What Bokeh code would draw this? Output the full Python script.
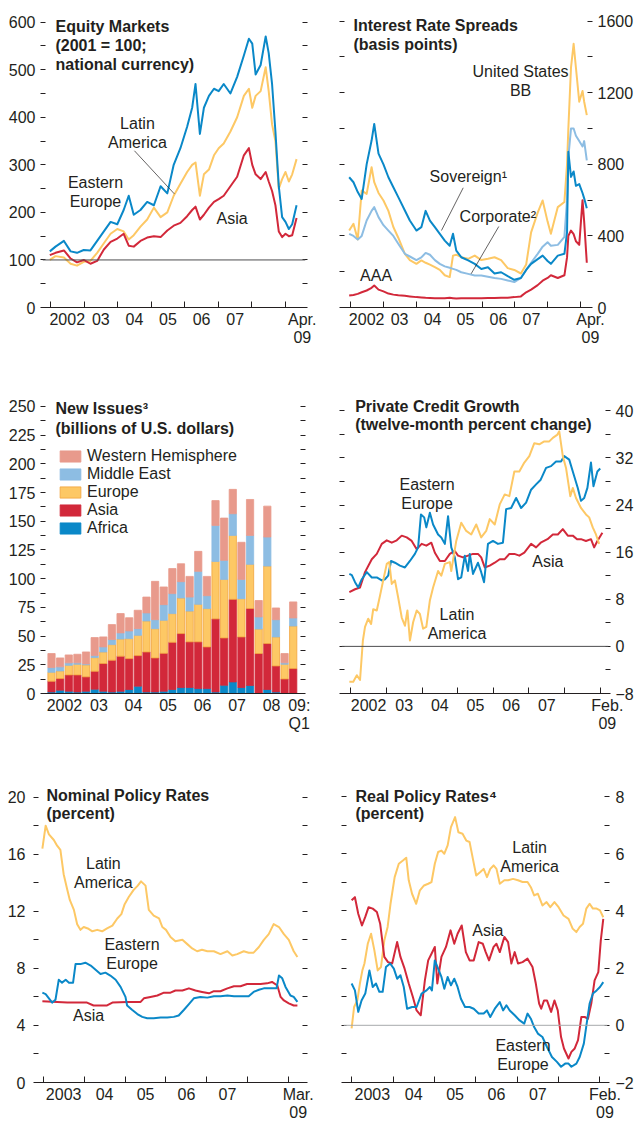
from bokeh.plotting import figure
from bokeh.models import (Range1d, LinearAxis, FixedTicker, Span, Label, Legend,
                          LegendItem, ColumnDataSource)
from bokeh.layouts import column, row
from bokeh.embed import file_html
from bokeh.resources import INLINE

FONT = "Liberation Sans"
FS = "16px"
TXT = "#231f20"
BLUE = "#0a88c8"
YELLOW = "#fdc865"
RED = "#d2283a"
LBLUE = "#8dbde3"
PINK = "#e89a8c"
EURO_EDGE = "#f2a43e"

# ---------------- Equity Markets (2001 = 100) ----------------
eq_dates = [2001.98, 2002.15, 2002.40, 2002.60, 2002.79, 2002.99, 2003.19, 2003.39, 2003.59, 2003.79,
            2003.99, 2004.18, 2004.33, 2004.48, 2004.68, 2004.88, 2005.08, 2005.28, 2005.48, 2005.67,
            2005.87, 2006.07, 2006.22, 2006.32, 2006.45, 2006.57, 2006.72, 2006.87, 2007.01, 2007.16,
            2007.36, 2007.56, 2007.76, 2007.91, 2008.01, 2008.11, 2008.26, 2008.41, 2008.50, 2008.60,
            2008.70, 2008.80, 2008.90, 2009.00, 2009.10, 2009.20, 2009.33]
eq_eastern_europe = [118, 128, 140, 118, 115, 121, 120, 140, 160, 180, 175, 205, 235, 195, 205, 222, 215,
                     255, 240, 300, 335, 380, 420, 470, 365, 420, 445, 460, 455, 470, 450, 485, 530, 565,
                     555, 490, 510, 570, 535, 470, 370, 255, 190, 180, 165, 175, 215]
eq_latin_america = [100, 108, 105, 92, 88, 96, 98, 115, 135, 155, 165, 160, 143, 152, 170, 185, 210, 190,
                    200, 235, 260, 285, 300, 305, 235, 280, 290, 320, 335, 345, 370, 400, 445, 460, 420,
                    445, 455, 505, 455, 385, 350, 250, 270, 285, 265, 280, 312]
eq_asia = [110, 115, 120, 103, 95, 100, 92, 98, 122, 138, 145, 155, 130, 128, 140, 147, 150, 148, 162,
           172, 178, 192, 205, 212, 185, 195, 210, 222, 228, 235, 255, 275, 320, 335, 300, 280, 270, 285,
           265, 245, 215, 160, 148, 155, 150, 152, 188]

# ---------------- Interest Rate Spreads (basis points) ----------------
sp_dates = [2001.97, 2002.10, 2002.23, 2002.35, 2002.50, 2002.65, 2002.73, 2002.86, 2003.01, 2003.16,
            2003.31, 2003.46, 2003.66, 2003.81, 2004.01, 2004.16, 2004.29, 2004.42, 2004.57, 2004.72,
            2004.87, 2005.02, 2005.12, 2005.22, 2005.37, 2005.58, 2005.78, 2005.98, 2006.18, 2006.38,
            2006.58, 2006.78, 2006.98, 2007.18, 2007.34, 2007.49, 2007.69, 2007.84, 2007.99, 2008.09,
            2008.30, 2008.50, 2008.58, 2008.62, 2008.70, 2008.78, 2008.85, 2008.95, 2009.05, 2009.10,
            2009.18]
sp_sovereign = [728, 700, 645, 607, 800, 933, 1026, 860, 800, 728, 672, 617, 542, 486, 430, 449, 540,
                486, 449, 412, 374, 345, 412, 318, 281, 263, 244, 215, 225, 190, 197, 175, 155, 165,
                210, 244, 270, 290, 260, 244, 290, 300, 420, 870, 730, 760, 680, 690, 640, 610, 555]
sp_us_bb = [430, 468, 380, 654, 635, 784, 700, 640, 598, 540, 450, 390, 300, 265, 244, 263, 250, 240,
            225, 210, 180, 170, 290, 295, 281, 272, 290, 265, 272, 281, 265, 220, 210, 190, 240, 420,
            530, 598, 480, 412, 561, 590, 800, 1000, 1340, 1474, 1340, 1150, 1210, 1150, 1075]
sp_corporate = [412, 400, 380, 400, 486, 540, 561, 505, 460, 430, 400, 356, 300, 285, 265, 280, 305,
                295, 265, 244, 230, 222, 216, 210, 197, 188, 179, 179, 172, 165, 160, 151, 142, 165,
                210, 250, 300, 340, 365, 345, 350, 395, 600, 840, 1000, 1000, 960, 930, 900, 930, 822]
sp_aaa = [67, 70, 76, 85, 95, 110, 123, 100, 90, 78, 72, 68, 65, 62, 58, 56, 54, 53, 52, 52, 52, 54, 52,
          50, 52, 52, 52, 52, 53, 53, 54, 55, 58, 62, 85, 100, 125, 150, 165, 180, 165, 180, 280, 400,
          430, 410, 370, 350, 600, 480, 250]

# ---------------- New Issues (billions of U.S. dollars), quarterly ----------------
quarters = [f"{y}Q{q}" for y in range(2002, 2010) for q in range(1, 5)][:29]
ni_africa = [1.4, 2.9, 2.0, 1.4, 2.0, 3.8, 2.0, 1.4, 2.0, 3.5, 6.4, 1.4, 1.4, 2.0, 3.5, 5.2, 5.2, 4.3,
             4.3, 1.4, 7.2, 10.1, 5.2, 7.0, 0.5, 3.5, 1.4, 0.5, 0.3]
ni_asia = [9.3, 10.1, 14.2, 14.8, 12.5, 15.6, 24.1, 27.6, 30.5, 26.9, 26.6, 34.8, 29.6, 33.0, 41.1,
           47.0, 39.8, 40.7, 36.3, 63.6, 41.2, 71.9, 44.1, 67.0, 34.3, 40.0, 22.6, 12.2, 21.4]
ni_europe = [7.8, 6.7, 8.4, 9.3, 10.5, 11.9, 10.1, 13.6, 15.0, 17.4, 17.7, 27.0, 25.5, 28.8, 25.0,
             31.0, 26.8, 32.7, 33.4, 50.0, 51.0, 55.7, 33.3, 38.5, 21.4, 67.5, 25.3, 12.8, 37.1]
ni_middle_east = [4.1, 3.5, 2.1, 1.2, 0.8, 1.7, 4.4, 4.4, 5.3, 6.7, 5.8, 7.0, 7.8, 13.6, 17.4, 14.2,
                  12.2, 28.7, 11.2, 31.4, 16.6, 18.9, 16.8, 25.2, 10.5, 25.3, 15.0, 1.2, 7.0]
ni_western_hem = [12.2, 7.8, 6.9, 7.5, 10.4, 15.7, 8.7, 13.0, 16.8, 11.5, 16.0, 13.8, 33.4, 15.4, 21.8,
                  15.6, 18.0, 17.4, 16.8, 21.6, 36.8, 21.2, 32.3, 31.3, 14.3, 26.9, 10.2, 8.1, 14.0]
ni_regions = ["Africa", "Asia", "Europe", "Middle East", "Western Hemisphere"]

# ---------------- Private Credit Growth (twelve-month percent change) ----------------
pc_ee_dates = [2001.96, 2002.03, 2002.12, 2002.21, 2002.31, 2002.45, 2002.59, 2002.73, 2002.87, 2002.96,
               2003.05, 2003.13, 2003.24, 2003.38, 2003.52, 2003.66, 2003.80, 2003.89, 2003.97, 2004.06,
               2004.12, 2004.22, 2004.31, 2004.45, 2004.54, 2004.64, 2004.73, 2004.82, 2004.92, 2005.01,
               2005.10, 2005.20, 2005.29, 2005.34, 2005.43, 2005.57, 2005.66, 2005.74, 2005.85, 2005.99,
               2006.13, 2006.27, 2006.36, 2006.50, 2006.64, 2006.78, 2006.92, 2007.06, 2007.20, 2007.33,
               2007.48, 2007.62, 2007.76, 2007.90, 2007.99, 2008.13, 2008.23, 2008.37, 2008.46, 2008.55,
               2008.64, 2008.74, 2008.81, 2008.92, 2009.00]
pc_eastern_europe = [12.3, 12.1, 10.9, 10.0, 11.4, 12.6, 11.7, 11.7, 11.2, 11.4, 12.0, 14.5, 14.2, 13.7,
                     13.4, 14.5, 15.7, 16.8, 22.4, 21.9, 20.2, 22.7, 20.7, 19.0, 18.5, 17.4, 22.1, 16.8,
                     15.1, 11.4, 11.7, 15.4, 12.8, 15.7, 12.3, 14.2, 12.6, 10.9, 17.4, 17.9, 17.4, 17.6,
                     23.3, 23.5, 25.2, 23.5, 24.4, 26.6, 27.5, 28.3, 30.3, 30.6, 31.4, 31.4, 32.3, 31.7,
                     29.7, 26.9, 24.7, 25.2, 26.9, 31.2, 27.2, 29.7, 30.2]
pc_asia_dates = [2001.96, 2002.12, 2002.26, 2002.40, 2002.59, 2002.73, 2002.87, 2003.01, 2003.15, 2003.29,
                 2003.43, 2003.57, 2003.71, 2003.85, 2003.99, 2004.12, 2004.26, 2004.36, 2004.50, 2004.64,
                 2004.78, 2004.92, 2005.01, 2005.15, 2005.29, 2005.43, 2005.57, 2005.66, 2005.76, 2005.90,
                 2006.04, 2006.18, 2006.32, 2006.45, 2006.59, 2006.73, 2006.87, 2007.06, 2007.20, 2007.33,
                 2007.52, 2007.67, 2007.81, 2007.95, 2008.09, 2008.23, 2008.35, 2008.46, 2008.60, 2008.74,
                 2008.83, 2008.92, 2009.06]
pc_asia = [9.2, 9.7, 10.0, 12.6, 14.8, 15.7, 17.4, 18.0, 17.6, 18.0, 18.8, 18.5, 17.9, 16.5, 17.4, 17.1,
           17.6, 15.9, 14.5, 14.5, 15.7, 16.2, 15.4, 15.1, 15.4, 15.7, 15.7, 15.1, 13.4, 13.7, 14.2, 14.8,
           14.8, 15.7, 15.7, 15.4, 15.9, 17.4, 16.8, 17.6, 18.2, 19.0, 19.0, 19.9, 18.8, 18.8, 18.2, 18.2,
           17.9, 18.2, 16.8, 17.9, 19.3]
pc_la_dates = [2001.96, 2002.07, 2002.17, 2002.26, 2002.34, 2002.40, 2002.49, 2002.57, 2002.63, 2002.73,
               2002.82, 2002.91, 2003.01, 2003.08, 2003.15, 2003.24, 2003.33, 2003.43, 2003.52, 2003.59,
               2003.66, 2003.75, 2003.85, 2003.94, 2004.03, 2004.12, 2004.22, 2004.31, 2004.45, 2004.54,
               2004.64, 2004.78, 2004.82, 2004.96, 2005.10, 2005.24, 2005.38, 2005.52, 2005.66, 2005.80,
               2005.90, 2006.04, 2006.18, 2006.32, 2006.45, 2006.59, 2006.73, 2006.87, 2007.01, 2007.15,
               2007.29, 2007.43, 2007.57, 2007.67, 2007.79, 2007.85, 2007.95, 2008.04, 2008.16, 2008.23,
               2008.32, 2008.46, 2008.60, 2008.69, 2008.79, 2008.88, 2008.97]
pc_latin_america = [-6.0, -6.0, -4.9, -5.7, 1.0, 3.3, 4.7, 3.8, 6.3, 6.1, 8.6, 11.2, 14.0, 14.3, 10.6,
                    11.2, 8.3, 4.9, 3.5, 6.1, 1.0, 4.1, 6.1, 5.5, 3.0, 3.3, 7.8, 10.0, 12.8, 12.0, 14.0,
                    14.3, 12.8, 17.9, 21.0, 19.6, 19.0, 20.7, 18.5, 19.6, 21.6, 20.7, 24.1, 25.8, 25.5,
                    29.7, 29.7, 31.2, 32.3, 34.5, 34.3, 34.8, 34.8, 35.4, 35.9, 36.5, 32.3, 30.3, 25.5,
                    26.9, 25.2, 23.5, 22.4, 21.9, 20.2, 19.0, 17.4]

# ---------------- Nominal Policy Rates (percent) ----------------
np_la_dates = [2002.98, 2003.06, 2003.14, 2003.26, 2003.34, 2003.42, 2003.50, 2003.59, 2003.65, 2003.75,
               2003.83, 2003.91, 2003.99, 2004.09, 2004.20, 2004.32, 2004.44, 2004.56, 2004.69, 2004.81,
               2004.91, 2004.99, 2005.09, 2005.21, 2005.31, 2005.39, 2005.50, 2005.58, 2005.70, 2005.83,
               2005.91, 2006.00, 2006.11, 2006.23, 2006.40, 2006.52, 2006.64, 2006.76, 2006.88, 2007.01,
               2007.17, 2007.33, 2007.50, 2007.62, 2007.74, 2007.90, 2008.02, 2008.14, 2008.27, 2008.39,
               2008.51, 2008.63, 2008.76, 2008.88, 2009.00, 2009.12, 2009.21]
np_latin_america = [16.4, 18.0, 17.4, 17.0, 16.6, 16.3, 14.6, 13.5, 12.8, 12.1, 11.1, 10.7, 10.9, 10.8,
                    10.6, 10.7, 10.6, 10.8, 11.0, 11.5, 11.8, 12.5, 13.0, 13.5, 13.8, 14.1, 13.8, 12.1,
                    11.7, 11.5, 10.9, 10.7, 10.2, 9.9, 10.0, 9.7, 9.4, 9.2, 9.3, 9.2, 9.2, 9.0, 9.2, 8.9,
                    9.0, 9.2, 9.1, 9.1, 9.5, 10.0, 10.4, 11.1, 10.9, 10.4, 10.0, 9.2, 8.8]
np_ee_dates = [2002.98, 2003.06, 2003.14, 2003.22, 2003.30, 2003.38, 2003.46, 2003.55, 2003.63, 2003.73,
               2003.79, 2003.91, 2004.03, 2004.16, 2004.28, 2004.40, 2004.52, 2004.64, 2004.77, 2004.89,
               2005.01, 2005.05, 2005.17, 2005.30, 2005.42, 2005.54, 2005.70, 2005.87, 2006.03, 2006.19,
               2006.31, 2006.44, 2006.56, 2006.68, 2006.84, 2007.01, 2007.17, 2007.33, 2007.50, 2007.66,
               2007.82, 2008.02, 2008.14, 2008.27, 2008.39, 2008.55, 2008.70, 2008.76, 2008.84, 2008.92,
               2009.04, 2009.12, 2009.21]
np_eastern_europe = [6.3, 6.2, 5.9, 5.6, 5.8, 7.2, 7.0, 7.2, 7.0, 7.0, 8.3, 8.3, 8.4, 8.2, 7.9, 7.6, 7.7,
                     7.5, 7.2, 6.7, 6.0, 5.4, 5.1, 4.8, 4.6, 4.5, 4.5, 4.55, 4.55, 4.6, 4.7, 5.1, 5.5, 5.9,
                     6.0, 5.95, 6.05, 6.05, 6.1, 6.05, 6.05, 6.05, 6.35, 6.5, 6.6, 6.6, 6.6, 7.5, 7.3, 6.7,
                     6.1, 6.0, 5.65]
np_asia_dates = [2002.98, 2003.59, 2004.07, 2004.23, 2004.56, 2004.69, 2005.05, 2005.38, 2005.46, 2005.62,
                 2005.79, 2005.95, 2006.11, 2006.23, 2006.40, 2006.56, 2006.72, 2006.88, 2007.05, 2007.17,
                 2007.33, 2007.50, 2007.66, 2007.82, 2007.98, 2008.14, 2008.31, 2008.47, 2008.59, 2008.72,
                 2008.80, 2008.88, 2009.00, 2009.12, 2009.21]
np_asia = [5.7, 5.6, 5.6, 5.4, 5.4, 5.6, 5.65, 5.65, 5.9, 6.0, 6.1, 6.3, 6.3, 6.45, 6.45, 6.6, 6.45, 6.35,
           6.25, 6.4, 6.4, 6.6, 6.75, 6.75, 6.9, 6.9, 6.9, 6.95, 7.05, 6.8, 6.0, 5.75, 5.55, 5.4, 5.4]

# ---------------- Real Policy Rates (percent) ----------------
rp_la_dates = [2003.00, 2003.06, 2003.14, 2003.20, 2003.26, 2003.31, 2003.39, 2003.47, 2003.55, 2003.63,
               2003.71, 2003.79, 2003.87, 2003.94, 2004.04, 2004.14, 2004.24, 2004.32, 2004.38, 2004.46,
               2004.56, 2004.65, 2004.75, 2004.85, 2004.93, 2005.01, 2005.09, 2005.17, 2005.24, 2005.32,
               2005.40, 2005.50, 2005.58, 2005.68, 2005.77, 2005.85, 2005.93, 2006.01, 2006.11, 2006.19,
               2006.27, 2006.35, 2006.43, 2006.50, 2006.58, 2006.69, 2006.78, 2006.90, 2007.02, 2007.13,
               2007.25, 2007.33, 2007.41, 2007.50, 2007.61, 2007.71, 2007.80, 2007.90, 2008.00, 2008.12,
               2008.24, 2008.34, 2008.43, 2008.51, 2008.59, 2008.67, 2008.75, 2008.83, 2008.92, 2009.00,
               2009.08]
rp_latin_america = [-0.11, 0.64, 0.88, 1.46, 1.92, 2.16, 2.85, 3.20, 2.62, 1.92, 2.04, 2.97, 3.44, 4.25,
                    5.18, 5.65, 5.76, 5.86, 5.07, 4.60, 4.25, 4.72, 4.89, 4.95, 5.01, 5.65, 6.06, 6.11,
                    6.00, 6.29, 6.93, 7.28, 6.75, 6.70, 6.46, 6.41, 5.82, 5.24, 5.36, 5.47, 5.18, 5.47,
                    5.59, 5.47, 4.95, 5.07, 5.07, 5.12, 5.07, 5.01, 5.01, 4.83, 4.54, 4.60, 4.19, 4.31,
                    4.13, 4.31, 4.13, 3.84, 3.72, 3.38, 3.26, 3.44, 3.55, 4.08, 4.25, 4.08, 4.08, 4.02,
                    3.78]
rp_asia_dates = [2003.00, 2003.08, 2003.16, 2003.25, 2003.33, 2003.41, 2003.51, 2003.61, 2003.69, 2003.79,
                 2003.88, 2003.98, 2004.10, 2004.18, 2004.28, 2004.38, 2004.48, 2004.57, 2004.67, 2004.77,
                 2004.85, 2004.93, 2005.01, 2005.07, 2005.17, 2005.28, 2005.39, 2005.48, 2005.56, 2005.66,
                 2005.76, 2005.85, 2005.95, 2006.07, 2006.17, 2006.24, 2006.32, 2006.43, 2006.50, 2006.58,
                 2006.69, 2006.78, 2006.86, 2006.94, 2007.02, 2007.13, 2007.25, 2007.37, 2007.45, 2007.53,
                 2007.58, 2007.65, 2007.72, 2007.82, 2007.90, 2007.98, 2008.06, 2008.13, 2008.24, 2008.31,
                 2008.39, 2008.47, 2008.55, 2008.63, 2008.71, 2008.79, 2008.87, 2008.96, 2009.02, 2009.08]
rp_asia = [4.37, 4.48, 3.90, 3.49, 3.79, 4.13, 4.08, 3.96, 3.55, 2.39, 2.21, 2.16, 2.91, 2.39, 1.98,
           1.46, 0.99, 0.52, 0.35, 1.57, 2.27, 2.50, 2.74, 1.46, 2.39, 2.74, 3.32, 2.85, 3.20, 3.49, 2.56,
           2.27, 2.27, 2.91, 2.85, 2.56, 2.27, 2.74, 2.85, 2.56, 3.09, 2.91, 2.16, 2.56, 2.16, 2.21, 2.33,
           2.04, 1.46, 0.76, 0.58, 0.87, 0.87, 0.47, 0.87, 0.52, -0.41, -0.81, -1.16, -0.93, -0.81,
           -0.52, 0.29, 0.29, 0.23, 0.76, 1.57, 1.86, 2.97, 3.72]
rp_ee_dates = [2003.00, 2003.08, 2003.16, 2003.24, 2003.33, 2003.43, 2003.51, 2003.59, 2003.67, 2003.75,
               2003.83, 2003.93, 2004.02, 2004.10, 2004.18, 2004.26, 2004.34, 2004.46, 2004.57, 2004.69,
               2004.81, 2004.89, 2004.94, 2005.01, 2005.09, 2005.17, 2005.24, 2005.32, 2005.40, 2005.48,
               2005.56, 2005.64, 2005.74, 2005.85, 2005.95, 2006.07, 2006.19, 2006.27, 2006.35, 2006.46,
               2006.58, 2006.66, 2006.74, 2006.82, 2006.94, 2007.06, 2007.17, 2007.25, 2007.33, 2007.41,
               2007.50, 2007.61, 2007.72, 2007.84, 2007.96, 2008.06, 2008.16, 2008.24, 2008.31, 2008.43,
               2008.51, 2008.61, 2008.69, 2008.75, 2008.83, 2008.92, 2009.00, 2009.08]
rp_eastern_europe = [1.46, 1.22, 0.47, 0.87, 1.11, 1.92, 1.34, 1.46, 1.17, 1.17, 2.04, 2.16, 1.98, 1.63,
                     1.75, 1.34, 0.58, 0.64, 0.64, 1.11, 1.22, 1.34, 1.22, 2.27, 1.98, 1.69, 1.28, 1.69,
                     1.40, 1.63, 1.34, 0.93, 0.64, 0.64, 0.58, 0.41, 0.41, 0.52, 0.29, 0.58, 0.81, 0.52,
                     0.70, 0.52, 0.35, 0.17, 0.06, 0.41, 0.23, -0.06, -0.29, -0.41, -0.76, -1.11, -1.28,
                     -1.45, -1.34, -1.34, -1.45, -1.34, -1.11, -0.64, 0.17, 0.76, 1.11, 1.22, 1.34, 1.51]

# ---------------- axis tick labels ----------------
labels_2002 = ["2002", "03", "04", "05", "06", "07"]
labels_2003 = ["2003", "04", "05", "06", "07"]
labels_bars = ["2002", "03", "04", "05", "06", "07", "08", "09:\nQ1"]
end_label_apr = "Apr.\n09"
end_label_feb = "Feb.\n09"
end_label_mar = "Mar.\n09"


# ---------------- helpers ----------------
def base_fig(w, h, xr, yr, bl, br, bt, bb):
    p = figure(width=w, height=h, x_range=Range1d(*xr), y_range=Range1d(*yr),
               output_backend="svg", toolbar_location=None,
               x_axis_location=None, y_axis_location=None,
               min_border_left=bl, min_border_right=br, min_border_top=bt, min_border_bottom=bb)
    p.outline_line_color = None
    p.grid.visible = False
    p.background_fill_color = "white"
    p.border_fill_color = "white"
    return p


def add_xaxis(p, pos, txt, bounds):
    ax = LinearAxis(ticker=FixedTicker(ticks=pos, minor_ticks=bounds))
    ax.major_label_overrides = {float(k): v for k, v in zip(pos, txt)}
    ax.axis_line_color = TXT
    ax.axis_line_width = 1
    ax.major_tick_in = 0
    ax.major_tick_out = 0
    ax.major_tick_line_color = None
    ax.minor_tick_in = 6
    ax.minor_tick_out = 0
    ax.minor_tick_line_color = TXT if bounds else None
    ax.major_label_standoff = 3
    ax.major_label_text_font = FONT
    ax.major_label_text_font_size = FS
    ax.major_label_text_color = TXT
    ax.major_label_text_line_height = 1.1
    p.add_layout(ax, "below")


def add_yaxis(p, side, ticks, minor, show_labels, standoff=5, tick_out=2):
    ax = LinearAxis(ticker=FixedTicker(ticks=ticks, minor_ticks=minor))
    ax.axis_line_color = None
    ax.major_tick_in = 3
    ax.major_tick_out = tick_out
    ax.minor_tick_in = 3
    ax.minor_tick_out = tick_out
    ax.major_tick_line_color = TXT
    ax.minor_tick_line_color = TXT
    ax.major_label_standoff = standoff if show_labels else 0
    ax.major_label_text_font = FONT
    ax.major_label_text_font_size = FS
    ax.major_label_text_color = TXT
    if not show_labels:
        ax.major_label_overrides = {float(t): "" for t in ticks}
    p.add_layout(ax, side)


def add_text(p, x, y, text, align="center", baseline="middle", bold=False):
    p.add_layout(Label(x=x, y=y, text=text, text_font=FONT, text_font_size=FS,
                       text_font_style="bold" if bold else "normal", text_color=TXT,
                       text_align=align, text_baseline=baseline, text_line_height=1.12))


def add_title(p, x, ys, lines):
    for yy, t in zip(ys, lines):
        add_text(p, x, yy, t, align="left", baseline="alphabetic", bold=True)


def ln(p, x, y, color):
    p.line(x, y, line_color=color, line_width=2.0, line_join="round")


LW, RW = 318, 318
H1, H2, H3 = 378, 390, 356

# ---------------- Panel 1: Equity Markets ----------------
p1 = base_fig(LW, H1, (2001.762, 2009.596), (0, 624.5), 42, 13, 10, 70)
add_yaxis(p1, "left", list(range(0, 601, 100)), list(range(50, 600, 100)), True)
add_yaxis(p1, "right", list(range(0, 601, 100)), list(range(50, 600, 100)), False)
add_xaxis(p1, [2002.5 + i for i in range(6)] + [2009.5], labels_2002 + [end_label_apr],
          list(range(2002, 2010)))
p1.add_layout(Span(location=100, dimension="width", line_color="#4d4d4f", line_width=1))
ln(p1, eq_dates, eq_latin_america, YELLOW)
ln(p1, eq_dates, eq_asia, RED)
ln(p1, eq_dates, eq_eastern_europe, BLUE)
add_title(p1, 2002.149, [591, 550, 510], ["Equity Markets", "(2001 = 100;", "national currency)"])
add_text(p1, 2004.59, 367.6, "Latin\nAmerica")
add_text(p1, 2003.34, 243.7, "Eastern\nEurope")
add_text(p1, 2007.41, 187, "Asia")
LEADER_EQ = dict(x0=[2004.50], y0=[329.6], x1=[2005.69], y1=[238.9])
p1.segment(line_color=TXT, line_width=0.7, **LEADER_EQ)

# ---------------- Panel 2: Interest Rate Spreads ----------------
p2 = base_fig(RW, H1, (2001.737, 2009.292), (0, 1659.8), 23, 45, 10, 71)
add_yaxis(p2, "left", list(range(0, 1601, 400)), list(range(200, 1600, 400)), False)
add_yaxis(p2, "right", list(range(0, 1601, 400)), list(range(200, 1600, 400)), True, standoff=5)
add_xaxis(p2, [2002.5 + i for i in range(6)] + [2009.29], labels_2002 + [end_label_apr],
          list(range(2002, 2010)))
ln(p2, sp_dates, sp_us_bb, YELLOW)
ln(p2, sp_dates, sp_corporate, LBLUE)
ln(p2, sp_dates, sp_sovereign, BLUE)
ln(p2, sp_dates, sp_aaa, RED)
add_title(p2, 2002.10, [1576, 1469], ["Interest Rate Spreads", "(basis points)"])
add_text(p2, 2007.17, 1264, "United States\nBB")
add_text(p2, 2004.41, 732, "Sovereign\u00b9", align="left")
add_text(p2, 2005.32, 508.5, "Corporate\u00b2", align="left")
add_text(p2, 2002.30, 178.8, "AAA", align="left")
LEADER_SP = dict(x0=[2005.43, 2006.51], y0=[669, 452.7], x1=[2004.77, 2005.67], y1=[430.4, 188.3])
p2.segment(line_color=TXT, line_width=0.7, **LEADER_SP)

# ---------------- Panel 3: New Issues ----------------
p3 = base_fig(LW, H2, (2001.864, 2009.423), (0, 261.3), 42, 15, 15, 75)
add_yaxis(p3, "left", list(range(0, 251, 25)), [12.5 + 25 * i for i in range(10)], True)
add_yaxis(p3, "right", list(range(0, 251, 25)), [12.5 + 25 * i for i in range(10)], False)
add_xaxis(p3, [2002.5 + i for i in range(7)] + [2009.3], labels_bars, [])
qx = [int(q[:4]) + (int(q[5]) - 0.5) / 4 for q in quarters]
src = ColumnDataSource(dict(x=qx, af=ni_africa, asia=ni_asia, eu=ni_europe, me=ni_middle_east,
                            wh=ni_western_hem))
rs = p3.vbar_stack(["af", "asia", "eu", "me", "wh"], x="x", width=0.21,
                   color=[BLUE, RED, YELLOW, LBLUE, PINK], source=src)
rs[2].glyph.line_color = EURO_EDGE
for r in rs:
    r.glyph.line_width = 0.8
legend = Legend(items=[LegendItem(label=name, renderers=[r])
                       for name, r in reversed(list(zip(ni_regions, rs)))],
                location=(15, 156), padding=0, margin=0, spacing=0,
                glyph_width=26, glyph_height=14, label_height=14, label_standoff=4,
                label_text_font=FONT, label_text_font_size=FS, label_text_color=TXT,
                border_line_color=None, background_fill_alpha=0)
p3.add_layout(legend)
add_title(p3, 2002.241, [248.0, 230.8], ["New Issues\u00b3", "(billions of U.S. dollars)"])

# ---------------- Panel 4: Private Credit Growth ----------------
p4 = base_fig(RW, H2, (2001.740, 2009.232), (-8, 42.93), 23, 27, 14, 75)
add_yaxis(p4, "left", list(range(-8, 41, 8)), list(range(-4, 40, 8)), False)
add_yaxis(p4, "right", list(range(-8, 41, 8)), list(range(-4, 40, 8)), True, standoff=5)
add_xaxis(p4, [2002.5 + i for i in range(6)] + [2009.2], labels_2002 + [end_label_feb],
          list(range(2002, 2010)))
p4.add_layout(Span(location=0, dimension="width", line_color="#4d4d4f", line_width=1))
ln(p4, pc_asia_dates, pc_asia, RED)
ln(p4, pc_ee_dates, pc_eastern_europe, BLUE)
ln(p4, pc_la_dates, pc_latin_america, YELLOW)
add_title(p4, 2002.123, [40.73, 37.73], ["Private Credit Growth", "(twelve-month percent change)"])
add_text(p4, 2004.14, 25.79, "Eastern\nEurope")
add_text(p4, 2004.98, 3.84, "Latin\nAmerica")
add_text(p4, 2007.53, 14.38, "Asia")

# ---------------- Panel 5: Nominal Policy Rates ----------------
p5 = base_fig(LW, H3, (2002.812, 2009.408), (0, 20.96), 35, 13, 15, 42)
add_yaxis(p5, "left", list(range(0, 21, 4)), list(range(2, 20, 4)), True, standoff=8)
add_yaxis(p5, "right", list(range(0, 21, 4)), list(range(2, 20, 4)), False)
add_xaxis(p5, [2003.5 + i for i in range(5)] + [2009.23], labels_2003 + [end_label_mar],
          list(range(2003, 2010)))
ln(p5, np_la_dates, np_latin_america, YELLOW)
ln(p5, np_asia_dates, np_asia, RED)
ln(p5, np_ee_dates, np_eastern_europe, BLUE)
add_title(p5, 2003.08, [20.12, 18.84], ["Nominal Policy Rates", "(percent)"])
add_text(p5, 2004.47, 14.67, "Latin\nAmerica")
add_text(p5, 2005.17, 8.99, "Eastern\nEurope")
add_text(p5, 2004.11, 4.68, "Asia")

# ---------------- Panel 6: Real Policy Rates ----------------
p6 = base_fig(RW, H3, (2002.804, 2009.182), (-2, 8.455), 25, 23, 15, 42)
add_yaxis(p6, "left", list(range(-2, 9, 2)), list(range(-1, 8, 2)), False)
add_yaxis(p6, "right", list(range(-2, 9, 2)), list(range(-1, 8, 2)), True, standoff=6)
add_xaxis(p6, [2003.5 + i for i in range(5)] + [2009.12], labels_2003 + [end_label_feb],
          list(range(2003, 2010)))
p6.add_layout(Span(location=0, dimension="width", line_color="#a7a9ac", line_width=1))
ln(p6, rp_la_dates, rp_latin_america, YELLOW)
ln(p6, rp_asia_dates, rp_asia, RED)
ln(p6, rp_ee_dates, rp_eastern_europe, BLUE)
add_title(p6, 2003.094, [8.0, 7.40], ["Real Policy Rates\u2074", "(percent)"])
add_text(p6, 2007.30, 5.87, "Latin\nAmerica")
add_text(p6, 2006.29, 3.30, "Asia")
add_text(p6, 2007.14, -1.05, "Eastern\nEurope")

layout = column(row(p1, p2), row(p3, p4), row(p5, p6))
open("out.html", "w").write(file_html(layout, INLINE))
